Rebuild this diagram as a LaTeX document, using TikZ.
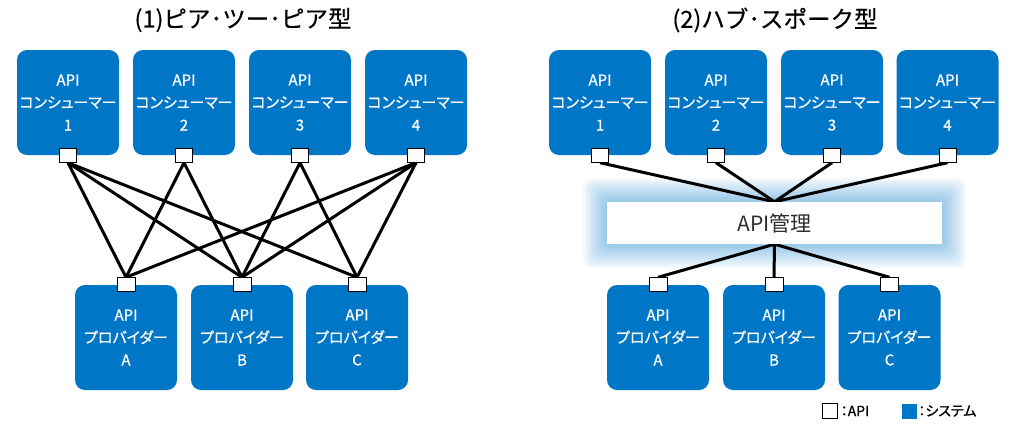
\documentclass[tikz,border=0pt]{standalone}
\usepackage{fontspec}
\setmainfont{Noto Sans CJK JP}
\newfontfamily\boxfont{Noto Sans CJK JP}[RawFeature={+palt}, FakeBold=0.8]
\newfontfamily\headfont{Noto Sans CJK JP}[FakeBold=0.4]
\usetikzlibrary{backgrounds}

\definecolor{sysblue}{RGB}{0,118,198}
\definecolor{hubtext}{RGB}{45,45,45}

\begin{document}
\begin{tikzpicture}[x = 1pt, y = -1pt,
	system/.style = {fill = sysblue, text = white, rounded corners = 10pt, minimum width = 102pt, minimum height = 105pt, align = center, inner sep = 0pt, font = \boxfont\fontsize{15}{22.5}\selectfont},
	apiport/.style = {draw = black, fill = white, line width = 1pt, minimum width = 17pt, minimum height = 14pt, inner sep = 0pt},
	link/.style = {line width = 3pt},
	title/.style = {font = \headfont\fontsize{23.5}{27}\selectfont}]

	\useasboundingbox (0, 0) rectangle (1030, 426);

	% Titles
	
	\node [title] (title1) at (243, 20) {(1)ピア･ツー･ピア型};
	\node [title] (title2) at (775, 20) {(2)ハブ･スポーク型};

	% (1) Peer to peer
	
	\foreach \x/\n in {68/1, 184/2, 300/3, 416/4} {
		\node [system] (pc\n) at (\x, 102.5) {API\\コンシューマー\\\n};
		\node [apiport] (pcp\n) at (pc\n.south) {};
	}
	\foreach \x/\n in {126/A, 242/B, 357/C} {
		\node [system] (pp\n) at (\x, 337.5) {API\\プロバイダー\\\n};
		\node [apiport, minimum width = 18pt] (ppp\n) at (pp\n.north) {};
	}

	% (2) Hub and spoke
	
	\foreach \x/\n in {600/1, 716/2, 832/3, 947.5/4} {
		\node [system] (hc\n) at (\x, 102.5) {API\\コンシューマー\\\n};
		\node [apiport] (hcp\n) at (hc\n.south) {};
	}
	\foreach \x/\n in {658/A, 774/B, 889.5/C} {
		\node [system] (hp\n) at (\x, 337.5) {API\\プロバイダー\\\n};
		\node [apiport, minimum width = 18pt] (hpp\n) at (hp\n.north) {};
	}
	\node [fill = white, minimum width = 335pt, minimum height = 42pt, text = hubtext, font = \fontsize{21}{25}\selectfont] (hub) at (774.5, 223) {API管理};

	% Legend
	
	\node [apiport, minimum width = 15pt, minimum height = 15pt] (keyapi) at (829.5, 411) {};
	\node [anchor = west, inner sep = 0pt, xshift = 3pt, font = \boxfont\fontsize{14}{16}\selectfont] (keyapitext) at (keyapi.east) {：API};
	\node [fill = sysblue, minimum size = 15pt, inner sep = 0pt] (keysys) at (909.5, 411) {};
	\node [anchor = west, inner sep = 0pt, xshift = 1pt, font = \boxfont\fontsize{14}{16}\selectfont] (keysystext) at (keysys.east) {：システム};

	% Glow and links behind the boxes
	
	\begin{scope}[on background layer]
		\foreach \g in {1, ..., 12}
			\fill [sysblue, opacity = 0.04, rounded corners = 8pt] ({607 - 2*\g}, {202 - 2*\g}) rectangle ({942 + 2*\g}, {244 + 2*\g});
		\foreach \c/\p in {1/A, 1/B, 1/C, 2/A, 2/B, 3/B, 3/C, 4/A, 4/B, 4/C}
			\draw [link] (pcp\c.south) -- (ppp\p.north);
		\foreach \c in {1, ..., 4}
			\draw [link] (hcp\c.south) -- (hub.north);
		\foreach \p in {A, B, C}
			\draw [link] (hub.south) -- (hpp\p.north);
	\end{scope}

\end{tikzpicture}
\end{document}
